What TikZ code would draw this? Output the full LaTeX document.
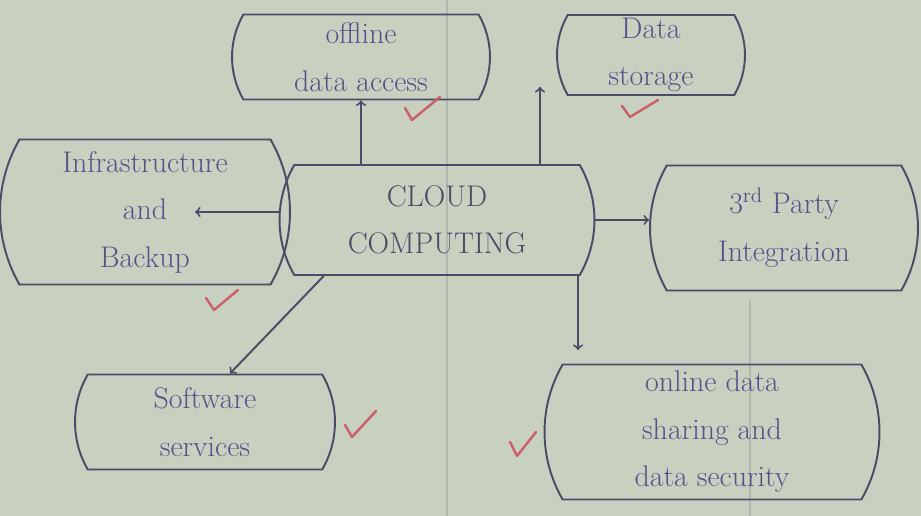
\documentclass[tikz,border=0pt]{standalone}
\usetikzlibrary{shapes.misc}
\definecolor{paper}{RGB}{200,208,192}
\definecolor{ink}{RGB}{72,76,104}
\definecolor{pen}{RGB}{84,82,140}
\definecolor{tickred}{RGB}{205,95,105}
\tikzset{
  blob/.style={rounded rectangle, rounded rectangle arc length=60, draw=ink, line width=1.1pt,
    align=center, text=pen, font=\fontsize{17}{27}\selectfont, inner sep=0pt},
  arr/.style={->, draw=ink, line width=1.1pt},
  chk/.style={draw=tickred, line width=1.4pt, line cap=round, line join=round},
  rule/.style={draw=ink!18!paper, line width=0.8pt}
}
\begin{document}
\begin{tikzpicture}[x=0.02cm,y=-0.02cm]
    \fill[paper] (0,0) rectangle (921,516);
    \useasboundingbox (0,0) rectangle (921,516);
    % paper lines
    \draw[rule] (447,0) -- (447,516);
    \draw[rule] (750,300) -- (750,516);
    % boxes
    \node[blob, minimum width=5.16cm, minimum height=1.7cm] (offline) at (361,57) {offline\\data access};
    \node[blob, minimum width=3.76cm, minimum height=1.6cm] (storage) at (651,55) {Data\\storage};
    \node[blob, minimum width=5.32cm, minimum height=2.9cm] (infra) at (145,212) {Infrastructure\\and\\Backup};
    \node[blob, minimum width=6.3cm, minimum height=2.2cm, text=ink] (cloud) at (437,220) {CLOUD\\COMPUTING};
    \node[blob, minimum width=5.36cm, minimum height=2.5cm] (third) at (784,228) {3\textsuperscript{rd} Party\\Integration};
    \node[blob, minimum width=5.2cm, minimum height=1.9cm] (software) at (205,422) {Software\\services};
    \node[blob, minimum width=6.7cm, minimum height=2.7cm] (online) at (712,432) {online data\\sharing and\\data security};
    % free arrow ends
    \coordinate (storetip) at (540,87);
    \coordinate (infratip) at (195,212);
    \coordinate (onlinetip) at (578,350);
    % arrows
    \draw[arr] (cloud.north -| offline.south) -- (offline.south);
    \draw[arr] (cloud.north -| storetip) -- (storetip);
    \draw[arr] (cloud.west |- infratip) -- (infratip);
    \draw[arr] (cloud.east) -- (cloud.east -| third.west);
    \draw[arr] ([xshift=30*0.02cm]cloud.south west) -- ([xshift=25*0.02cm]software.north);
    \draw[arr] (cloud.south -| onlinetip) -- (onlinetip);
    % ticks
    \draw[chk] (405,108) -- (412,120) -- (440,97);
    \draw[chk] (622,106) -- (630,117) -- (658,100);
    \draw[chk] (206,298) -- (214,310) -- (238,290);
    \draw[chk] (345,425) -- (352,437) -- (376,411);
    \draw[chk] (510,442) -- (517,456) -- (536,432);
\end{tikzpicture}
\end{document}
